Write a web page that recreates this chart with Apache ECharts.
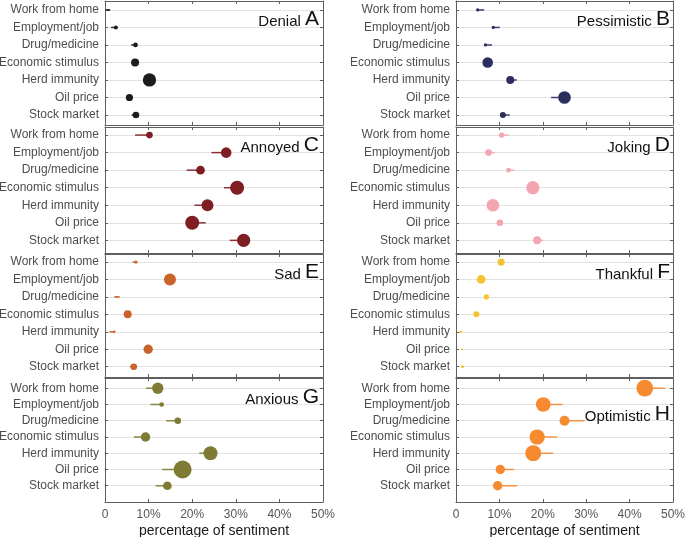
<!DOCTYPE html>
<html>
<head>
<meta charset="utf-8">
<script src="https://cdn.jsdelivr.net/npm/echarts@6/dist/echarts.min.js"></script>
<style>
  html, body { margin: 0; padding: 0; background: #fff; }
  #chart { width: 685px; height: 537px; }
</style>
</head>
<body>
<div id="chart"></div>
<script>
// topics on the vertical axis (top to bottom)
var topics = ['Work from home', 'Employment/job', 'Drug/medicine', 'Economic stimulus', 'Herd immunity', 'Oil price', 'Stock market'];
var sentiments = ['Denial', 'Pessimistic', 'Annoyed', 'Joking', 'Sad', 'Thankful', 'Anxious', 'Optimistic'];
var letters = ['A', 'B', 'C', 'D', 'E', 'F', 'G', 'H'];

// one row per topic: [percentage, interval low, interval high, tweet volume]
var denial      = [[0.8, 0.1, 1.2, 1], [2.5, 1.4, 2.5, 4], [7.0, 6.0, 7.0, 5.5], [6.9, 6.4, 6.9, 16], [10.2, 10.2, 10.2, 44], [5.6, 5.6, 5.6, 13], [7.1, 6.1, 7.1, 11]];
var pessimistic = [[5.0, 5.0, 6.5, 2.7], [8.6, 8.6, 10.1, 2.7], [6.8, 6.8, 8.3, 2.7], [7.3, 7.3, 7.3, 28], [12.5, 12.5, 14.0, 16], [25.0, 21.9, 25.0, 40], [10.8, 10.8, 12.4, 9]];
var annoyed     = [[10.2, 6.9, 10.2, 11], [27.8, 24.4, 27.8, 28], [21.9, 18.7, 21.9, 19], [30.3, 27.3, 30.3, 49], [23.5, 20.5, 23.5, 36], [20.0, 20.0, 23.1, 49], [31.8, 28.6, 31.8, 44]];
var joking      = [[10.5, 10.5, 12.1, 7], [7.5, 7.5, 9.0, 11], [12.1, 12.1, 13.4, 5.5], [17.7, 17.7, 17.7, 44], [8.5, 8.5, 8.5, 40], [10.1, 10.1, 10.1, 11], [18.7, 18.7, 20.1, 16]];
var sad         = [[7.1, 6.3, 7.1, 2.7], [14.9, 14.9, 14.9, 36], [2.8, 2.1, 3.4, 1], [5.2, 5.2, 5.2, 16], [2.1, 1.0, 2.1, 1.8], [9.9, 9.9, 9.9, 22], [6.6, 5.7, 6.6, 11]];
var thankful    = [[10.4, 10.4, 10.4, 13], [5.8, 5.8, 5.8, 19], [7.0, 7.0, 7.0, 7], [4.7, 4.7, 4.7, 9], [1.0, 0.6, 1.5, 0.7], [1.4, 1.4, 1.4, 1], [1.5, 1.5, 1.5, 2.2]];
var anxious     = [[12.1, 9.4, 12.1, 32], [13.0, 10.4, 13.0, 5.5], [16.7, 14.0, 16.7, 11], [9.3, 6.6, 9.3, 22], [24.2, 21.6, 24.2, 49], [17.8, 13.1, 17.8, 81], [14.3, 11.6, 14.3, 19]];
var optimistic  = [[43.5, 43.5, 48.2, 70], [20.1, 20.1, 24.6, 54], [25.0, 25.0, 29.6, 25], [18.7, 18.7, 23.3, 58], [17.8, 17.8, 22.4, 64], [10.2, 10.2, 13.4, 22], [9.6, 9.6, 14.1, 22]];

var panels = [denial, pessimistic, annoyed, joking, sad, thankful, anxious, optimistic];
var colors = ['#1c1c1c', '#2c2e5e', '#7e1d22', '#f4a5b2', '#c9622b', '#f5c332', '#7f7b34', '#f58a2f'];

// layout of the 4 x 2 panels
var colLeft = [105, 456];
var colWidth = [218, 217];
var rowTop = [1, 127, 254, 378];
var rowHeight = [124, 126, 123, 124];
var rowRange = [[-0.51, 6.57], [-0.46, 6.72], [-0.46, 6.59], [-0.63, 7.0]];
var titleTop = [9, 135, 262, 387];

var font = '"Liberation Sans", Arial, Helvetica, sans-serif';
var borderColor = '#5f5f5f';

var grid = [], xAxis = [], yAxis = [], series = [], title = [];

panels.forEach(function (rows, i) {
  var col = i % 2, row = Math.floor(i / 2);
  var last = row === 3;
  grid.push({
    left: colLeft[col], top: rowTop[row], width: colWidth[col], height: rowHeight[row],
    containLabel: false, outerBoundsMode: 'none'
  });

  var tick = { show: true, inside: true, length: 3, lineStyle: { color: borderColor } };
  var line = { show: true, onZero: false, lineStyle: { color: borderColor, width: 1 } };

  xAxis.push({
    type: 'value', gridIndex: i, position: 'bottom', min: 0, max: 50, interval: 10,
    axisLine: line, axisTick: tick, splitLine: { show: false },
    axisLabel: {
      show: last, color: '#555', fontFamily: font, fontSize: 12, margin: 7,
      formatter: function (v) { return v === 0 ? '0' : v + '%'; }
    },
    name: last ? 'percentage of sentiment' : '',
    nameLocation: 'middle', nameGap: 22,
    nameTextStyle: { color: '#1a1a1a', fontFamily: font, fontSize: 14 }
  });
  xAxis.push({
    type: 'value', gridIndex: i, position: 'top', min: 0, max: 50, interval: 10,
    axisLine: line, axisTick: tick, splitLine: { show: false }, axisLabel: { show: false }
  });

  yAxis.push({
    type: 'value', gridIndex: i, position: 'left', inverse: true,
    min: rowRange[row][0], max: rowRange[row][1], minInterval: 1, maxInterval: 1,
    axisLine: line, axisTick: tick,
    splitLine: { show: true, showMinLine: false, showMaxLine: false, lineStyle: { color: '#e3e3e3', width: 1 } },
    axisLabel: {
      color: '#4d4d4d', fontFamily: font, fontSize: 12, margin: 6,
      formatter: function (v) { return Number.isInteger(v) && topics[v] ? topics[v] : ''; }
    }
  });
  yAxis.push({
    type: 'value', gridIndex: i, position: 'right', inverse: true,
    min: rowRange[row][0], max: rowRange[row][1], minInterval: 1, maxInterval: 1,
    axisLine: line, axisTick: tick, splitLine: { show: false }, axisLabel: { show: false }
  });

  var errData = rows.map(function (r, k) { return [k, r[1], r[2]]; });
  var dotData = rows.map(function (r, k) { return [r[0], k, r[3]]; });

  series.push({
    type: 'custom', xAxisIndex: 2 * i, yAxisIndex: 2 * i, silent: true,
    data: errData,
    renderItem: function (params, api) {
      var a = api.coord([api.value(1), api.value(0)]);
      var b = api.coord([api.value(2), api.value(0)]);
      return {
        type: 'line',
        shape: { x1: a[0], y1: a[1], x2: b[0], y2: b[1] },
        style: { stroke: colors[i], lineWidth: 1.5, opacity: 0.9 }
      };
    },
    encode: { x: [1, 2], y: 0 },
    z: 2
  });
  series.push({
    type: 'scatter', xAxisIndex: 2 * i, yAxisIndex: 2 * i, silent: true,
    data: dotData,
    symbolSize: function (d) { return 2 * Math.sqrt(d[2]); },
    itemStyle: { color: colors[i], opacity: 1 },
    z: 3
  });

  title.push({
    text: '{n|' + sentiments[i] + ' }{l|' + letters[i] + '}',
    right: 685 - colLeft[col] - colWidth[col] + (col === 0 ? 4 : 3),
    top: (i === 7) ? 404 : titleTop[row],
    padding: 0,
    textStyle: {
      fontWeight: 'normal',
      rich: {
        n: { fontFamily: font, fontSize: 15, fontWeight: 'normal', color: '#111', verticalAlign: 'bottom', padding: [0, 0, 1, 0] },
        l: { fontFamily: font, fontSize: 21, fontWeight: 'normal', color: '#111', verticalAlign: 'bottom' }
      }
    }
  });
});

var chart = echarts.init(document.getElementById('chart'), null, { renderer: 'canvas' });
chart.setOption({
  animation: false,
  backgroundColor: '#fff',
  title: title,
  grid: grid,
  xAxis: xAxis,
  yAxis: yAxis,
  series: series
});
</script>
</body>
</html>
